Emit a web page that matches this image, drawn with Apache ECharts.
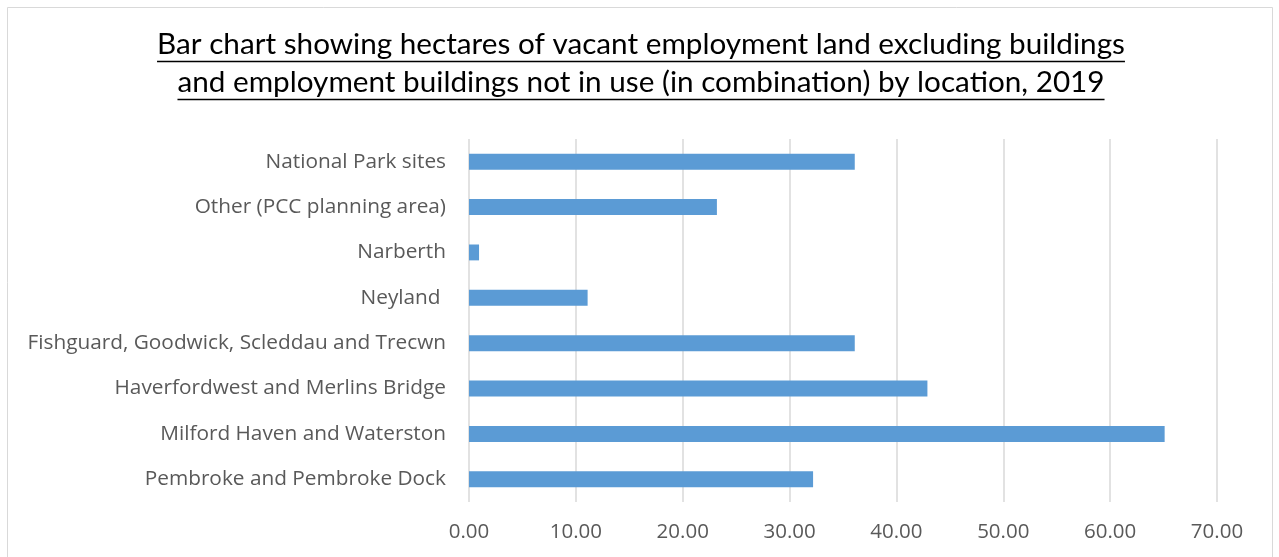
<!DOCTYPE html>
<html>
<head>
<meta charset="utf-8">
<script src="https://cdn.jsdelivr.net/npm/echarts@6/dist/echarts.min.js"></script>
<style>
  html, body { margin: 0; padding: 0; background: #fff; }
  #main { width: 1279px; height: 557px; }
</style>
</head>
<body>
<div id="main"></div>
<script>
// data, bottom to top
var locations = [
    'Pembroke and Pembroke Dock',
    'Milford Haven and Waterston',
    'Haverfordwest and Merlins Bridge',
    'Fishguard, Goodwick, Scleddau and Trecwn',
    'Neyland ',
    'Narberth',
    'Other (PCC planning area)',
    'National Park sites'
];
var hectares = [32.2, 65.1, 42.9, 36.1, 11.1, 0.94, 23.2, 36.1];
var titleLines = [
    'Bar chart showing hectares of vacant employment land excluding buildings',
    'and employment buildings not in use (in combination) by location, 2019'
];

var titleFont = 'Lato';
var labelFont = '"Open Sans"';
var textColor = '#595959';

// measure title text so the underline fits under it
var ctx = document.createElement('canvas').getContext('2d');
var titleSize = 28;
ctx.font = titleSize + 'px ' + titleFont;
var w0 = ctx.measureText(titleLines[0]).width;
titleSize = Math.round(titleSize * 969 / w0 * 10) / 10;
ctx.font = titleSize + 'px ' + titleFont;

var cx = 641;
var graphics = [{
    type: 'rect',
    shape: { x: 7.5, y: 7.5, width: 1265, height: 600 },
    style: { fill: 'none', stroke: '#d9d9d9', lineWidth: 1 },
    silent: true
}];
var baseY = [59, 97];
for (var i = 0; i < titleLines.length; i++) {
    var tw = ctx.measureText(titleLines[i]).width;
    graphics.push({
        type: 'text',
        x: cx, y: baseY[i],
        style: {
            text: titleLines[i], fill: '#000', font: titleSize + 'px ' + titleFont,
            textAlign: 'center', textVerticalAlign: 'bottom'
        }
    });
    graphics.push({
        type: 'line',
        shape: { x1: cx - tw / 2, y1: baseY[i] + 2.5, x2: cx + tw / 2, y2: baseY[i] + 2.5 },
        style: { stroke: '#000', lineWidth: 1.5 }
    });
}

var chart = echarts.init(document.getElementById('main'));
chart.setOption({
    animation: false,
    backgroundColor: '#fff',
    graphic: graphics,
    grid: { left: 469, right: 62, top: 139, bottom: 55, containLabel: false },
    xAxis: {
        type: 'value',
        min: 0, max: 70, interval: 10,
        axisLine: { show: false },
        axisTick: { show: false },
        splitLine: { lineStyle: { color: '#d9d9d9', width: 1.5 } },
        axisLabel: {
            color: textColor, fontFamily: labelFont, fontSize: 20.5, margin: 20,
            formatter: function (v) { return v.toFixed(2); }
        }
    },
    yAxis: {
        type: 'category',
        data: locations,
        axisLine: { show: false },
        axisTick: { show: false },
        axisLabel: { color: textColor, fontFamily: labelFont, fontSize: 20.8, margin: 23 }
    },
    series: [{
        type: 'bar',
        data: hectares,
        barWidth: '35%',
        itemStyle: { color: '#5b9bd5' }
    }]
});
</script>
</body>
</html>
